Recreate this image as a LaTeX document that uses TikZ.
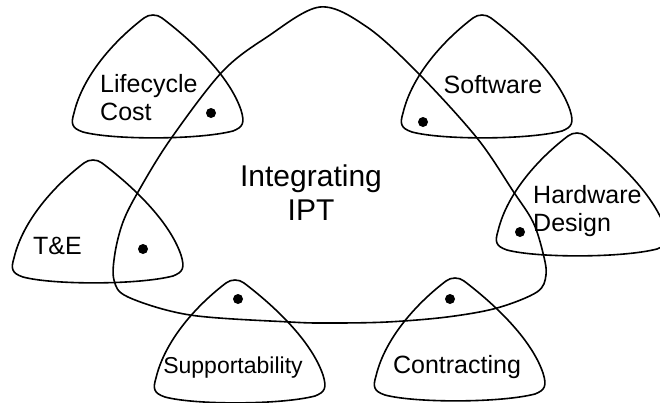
\documentclass[tikz,border=0pt]{standalone}
\usepackage{fontspec}
\setmainfont{Liberation Sans}
\usepackage{tikz}

\tikzset{
	tri/.style={line width=1.6pt, line join=round},
	lbl/.style={inner sep=0pt, font=\fontsize{25}{28}\selectfont},
	spot/.style={fill=black}
}

% one rounded team triangle, apex at #1
\newcommand{\teamtri}[1]{%
	\draw[tri, shift={#1}] (-9,3) .. controls (-4,-1) and (4,-1) .. (9,3)
		.. controls (38,25) and (76,60) .. (88,95)
		.. controls (92,108) and (90,112) .. (80,116)
		.. controls (45,125) and (-40,125) .. (-70,117)
		.. controls (-82,113) and (-82,108) .. (-79,98)
		.. controls (-70,60) and (-38,25) .. (-9,3) -- cycle;}

\begin{document}
\begin{tikzpicture}[x=1pt, y=-1pt]
		\useasboundingbox (0,0) rectangle (660,402);

		% integrating IPT
		\draw[tri] plot[smooth cycle, tension=0.55] coordinates {
			(320,7) (367,27) (418,73) (477,138) (513,191) (533,222) (543,253)
			(546,275) (537,292) (497,308) (447,317) (387,322) (330,323) (290,322)
			(190,315) (128,297) (114,280) (115,253) (123,222) (138,192) (170,140)
			(222,72) (267,37)};
		\node[inner sep=0pt, align=center, anchor=base, font=\fontsize{30}{34}\selectfont] (ipt) at (311,220) {Integrating\\IPT};

		% teams
		\teamtri{(153,15)}
		\teamtri{(482,15)}
		\teamtri{(93,160)}
		\teamtri{(577,133)}
		\teamtri{(235,280)}
		\teamtri{(455,278)}

		\node[lbl, align=left, anchor=base west] (cost) at (100,120) {Lifecycle\\Cost};
		\node[lbl, anchor=base] (soft) at (493,93) {Software};
		\node[lbl, align=left, anchor=base west] (hw) at (533,231) {Hardware\\Design};
		\node[lbl, anchor=base west] (te) at (33,254) {T\&E};
		\node[lbl, anchor=base, font=\fontsize{23}{28}\selectfont] (sup) at (233,373) {Supportability};
		\node[lbl, anchor=base] (con) at (457,373) {Contracting};

		\fill[spot] (211,113) circle (5pt);
		\fill[spot] (423,122) circle (5pt);
		\fill[spot] (520,232) circle (5pt);
		\fill[spot] (143,249) circle (5pt);
		\fill[spot] (238,299) circle (5pt);
		\fill[spot] (450,299) circle (5pt);
\end{tikzpicture}
\end{document}
